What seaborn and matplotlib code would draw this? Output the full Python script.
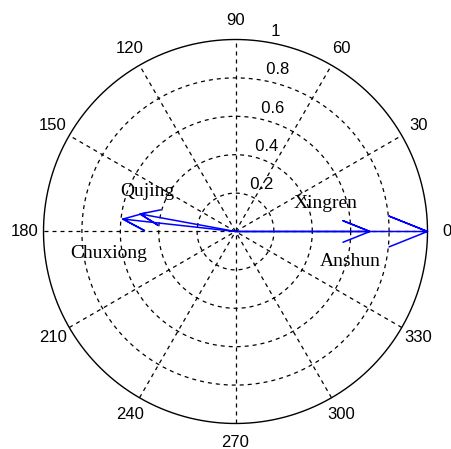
import numpy as np
import pandas as pd
import matplotlib
matplotlib.use("Agg")
import matplotlib.pyplot as plt
import seaborn as sns

# Resultant vectors per station (magnitude, direction in degrees)
stations = ["Anshun", "Xingren", "Qujing", "Chuxiong"]
magnitude = [1.00, 0.70, 0.59, 0.505]
direction_deg = [0.0, 0.0, 173.7, 169.6]

# Polar grid definitions
ring_values = [0.2, 0.4, 0.6, 0.8, 1.0]
ring_labels = ["0.2", "0.4", "0.6", "0.8", "1"]
angle_ticks = [0, 30, 60, 90, 120, 150, 180, 210, 240, 270, 300, 330]

sns.set_theme(style="white")
plt.rcParams["font.family"] = ["Liberation Sans", "DejaVu Sans"]

fig = plt.figure(figsize=(4.51, 4.49), dpi=100)
ax = fig.add_axes([0, 0, 1, 1])
ax.set_xlim(-1.2266, 1.1224)
ax.set_ylim(-1.1328, 1.2057)
ax.set_aspect("equal")
ax.axis("off")

dash = (0, (3.2, 3.2))
t = np.linspace(0, 2 * np.pi, 400)
# dashed rings and the solid outer boundary
for r in ring_values[:-1]:
    ax.plot(r * np.cos(t), r * np.sin(t), color="black", lw=0.9, ls=dash, zorder=1)
ax.plot(np.cos(t), np.sin(t), color="black", lw=1.0, zorder=2)

# dashed spokes across the full diameter every 30 degrees
for a in angle_ticks[:6]:
    c, s = np.cos(np.radians(a)), np.sin(np.radians(a))
    ax.plot([-c, c], [-s, s], color="black", lw=0.9, ls=dash, zorder=1)

# angle labels outside the circle
for a in angle_ticks:
    c, s = np.cos(np.radians(a)), np.sin(np.radians(a))
    ax.text(1.1 * c, 1.1 * s, str(a), ha="center", va="center", fontsize=12, color="black")

# radial labels along the 82 degree ray
c82, s82 = np.cos(np.radians(82)), np.sin(np.radians(82))
for r, lab in zip(ring_values, ring_labels):
    ax.text((r + 0.01) * c82, (r + 0.01) * s82, "  " + lab, ha="left", va="bottom",
            fontsize=12, color="black")

# compass arrows: shaft plus open arrowhead, rotated to each direction
rows = []
for name, r, d in zip(stations, magnitude, direction_deg):
    base_x = np.array([0, 1, 0.8, 1, 0.8]) * r
    base_y = np.array([0, 0, 0.08, 0, -0.08]) * r
    th = np.radians(d)
    xs = base_x * np.cos(th) - base_y * np.sin(th)
    ys = base_x * np.sin(th) + base_y * np.cos(th)
    for i, (x, y) in enumerate(zip(xs, ys)):
        rows.append({"station": name, "order": i, "x": x, "y": y})
arrows = pd.DataFrame(rows)

sns.lineplot(data=arrows, x="x", y="y", units="station", estimator=None, sort=False,
             color=(0, 0, 1), lw=1.1, ax=ax, zorder=3, legend=False)
ax.axis("off")

# station names
name_pos = {
    "Qujing": (-0.457, 0.207),
    "Chuxiong": (-0.659, -0.117),
    "Xingren": (0.471, 0.148),
    "Anshun": (0.596, -0.154),
}
for name, (x, y) in name_pos.items():
    ax.text(x, y, name, ha="center", va="center", fontsize=14,
            family=["Liberation Serif", "DejaVu Serif"], color="black", zorder=4)

fig.savefig("out.png", dpi=100, facecolor="white")
